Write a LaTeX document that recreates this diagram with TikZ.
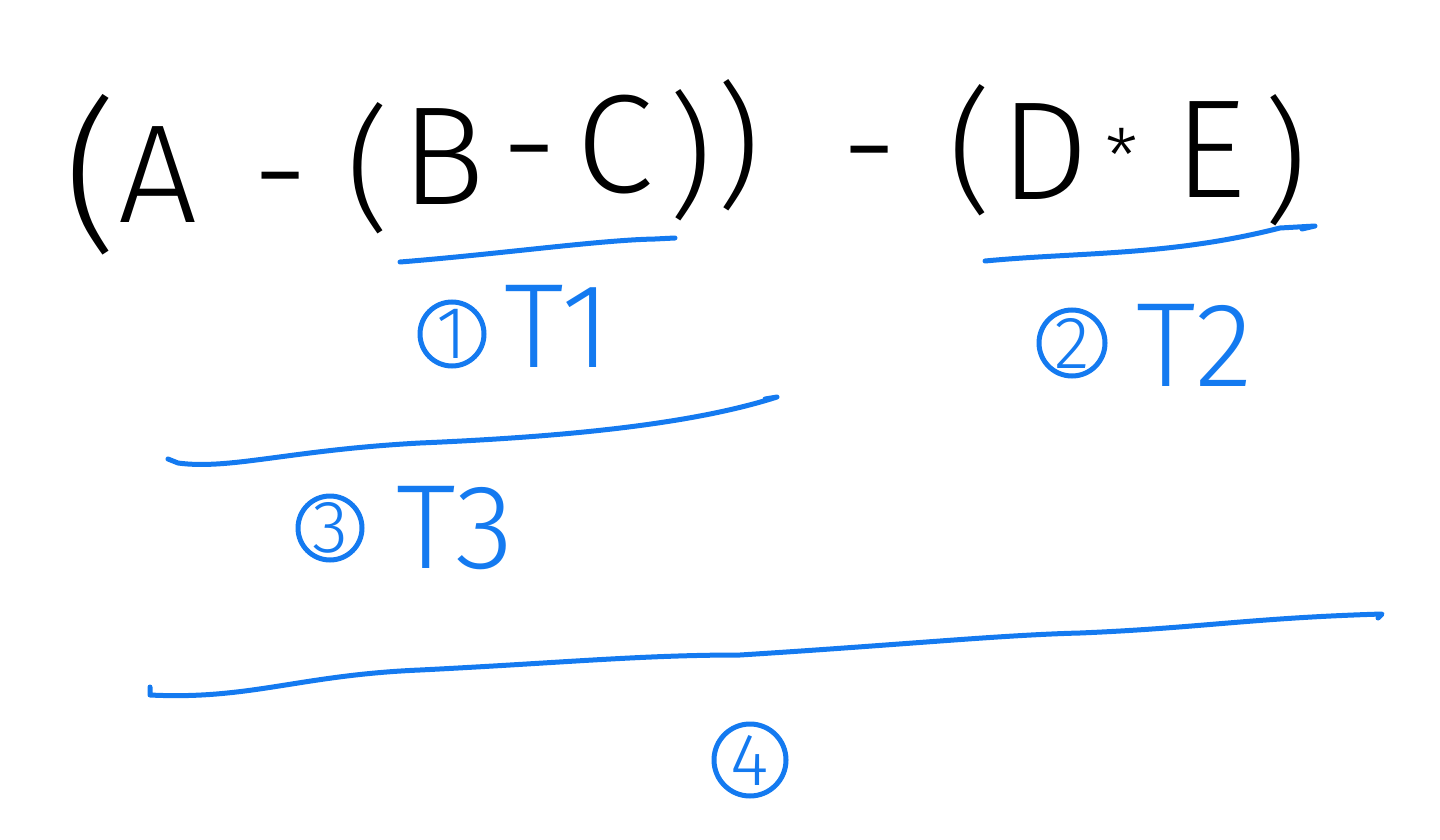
\documentclass[tikz,border=0pt]{standalone}
\usepackage{fontspec}
\setmainfont{Fira Sans Light}
\definecolor{inkblue}{RGB}{20,122,240}
\tikzset{
  ch/.style={inner sep=0pt, outer sep=0pt, anchor=center, text=black, font=\fontsize{140}{140}\selectfont},
  bigpar/.style={ch, font=\fontsize{165}{165}\selectfont},
  midpar/.style={ch, font=\fontsize{135}{135}\selectfont},
  minus/.style={ch, anchor=north},
  bch/.style={inner sep=0pt, outer sep=0pt, anchor=center, text=inkblue, font=\fontsize{120}{120}\selectfont},
  num/.style={circle, draw=inkblue, line width=5pt, text=inkblue, inner sep=0pt, font=\fontsize{74}{74}\selectfont},
  uline/.style={draw=inkblue, line width=5pt, line cap=round, line join=round}
}
\begin{document}
\begin{tikzpicture}[x=1pt,y=-1pt]
\useasboundingbox (0,0) rectangle (1440,840);
% black expression
\node[bigpar] (p1) at (91,175) {(};
\node[ch] (a) at (158,175) {A};
\node[minus] (m1) at (281,172) {-};
\node[midpar] (p2) at (368,168) {(};
\node[ch] (b) at (443,157) {B};
\node[minus] (m2) at (530,145) {-};
\node[ch] (c) at (615,145) {C};
\node[midpar] (p3) at (690,155) {)};
\node[midpar] (p4) at (738,145) {)};
\node[minus] (m3) at (870,146) {-};
\node[midpar] (p5) at (970,150) {(};
\node[ch] (d) at (1045,152) {D};
\node[ch, anchor=north, font=\fontsize{75}{75}\selectfont] (st) at (1122,128) {*};
\node[ch] (e) at (1210,150) {E};
\node[midpar] (p6) at (1285,160) {)};
% underlines
\coordinate (u1a) at (400,262); \coordinate (u1b) at (675,238);
\draw[uline] (u1a) .. controls (500,254) and (600,240) .. (655,239) -- (u1b);
\coordinate (u2a) at (985,261); \coordinate (u2b) at (1315,226);
\draw[uline] (u2a) .. controls (1080,252) and (1170,256) .. (1280,228) -- (u2b) -- (1302,229);
\coordinate (u3a) at (168,459); \coordinate (u3b) at (777,397);
\draw[uline] (u3a) -- (178,463) .. controls (230,470) and (290,450) .. (420,443)
   .. controls (560,437) and (690,425) .. (u3b) -- (765,399);
\coordinate (u4a) at (150,687); \coordinate (u4b) at (1382,614);
\draw[uline] (u4a) -- (150,695) .. controls (250,700) and (300,675) .. (420,670)
   .. controls (560,663) and (640,655) .. (740,655)
   .. controls (900,645) and (1000,635) .. (1080,633)
   .. controls (1200,628) and (1250,618) .. (u4b) -- (1378,618);
% labels
\node[num, minimum size=64pt] (n1) at (452,334) {1};
\node[bch] (t1) at (558,326) {T1};
\node[num, minimum size=66pt] (n2) at (1072,343) {2};
\node[bch] (t2) at (1195,345) {T2};
\node[num, minimum size=64pt] (n3) at (330,528) {3};
\node[bch] (t3) at (455,528) {T3};
\node[num, minimum size=72pt] (n4) at (750,760) {4};
\end{tikzpicture}
\end{document}
